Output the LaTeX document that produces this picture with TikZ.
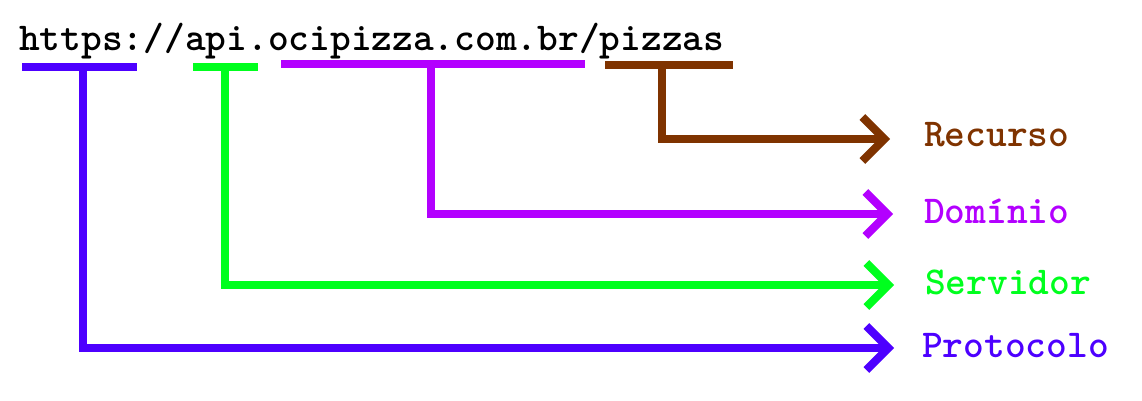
\documentclass[tikz,border=0pt]{standalone}
\usepackage{fontspec}
\usetikzlibrary{arrows.meta}
\definecolor{cblue}{HTML}{4D00FF}
\definecolor{cgreen}{HTML}{00FF1E}
\definecolor{cpurple}{HTML}{B300FF}
\definecolor{cbrown}{HTML}{7F3300}
\tikzset{
  urltext/.style={font=\ttfamily\bfseries\fontsize{39.5pt}{44pt}\selectfont\addfontfeature{FakeBold=0.8}, inner sep=0pt, anchor=base west},
  bar/.style={line width=8pt, line cap=butt},
  conn/.style={line width=8pt, line join=miter, -{Straight Barb[length=22pt,width=44pt,line width=8pt]}},
}
\begin{document}
\begin{tikzpicture}[x=1pt,y=-1pt]
\useasboundingbox (0,0) rectangle (1142,400);
\node[urltext] (url) at (19,50) {https://api.ocipizza.com.br/pizzas};
% underline bars
\coordinate (b1l) at (22,67);  \coordinate (b1r) at (137,67);
\coordinate (b2l) at (193,67); \coordinate (b2r) at (258,67);
\coordinate (b3l) at (281,63.5); \coordinate (b3r) at (585,63.5);
\coordinate (b4l) at (605,64.5); \coordinate (b4r) at (733,64.5);
\draw[bar,cblue] (b1l) -- (b1r);
\draw[bar,cgreen] (b2l) -- (b2r);
\draw[bar,cpurple] (b3l) -- (b3r);
\draw[bar,cbrown] (b4l) -- (b4r);
% stems
\coordinate (s1) at (83,67);
\coordinate (s2) at (225,67);
\coordinate (s3) at (431,63.5);
\coordinate (s4) at (662,64.5);
% arrow ends
\coordinate (e1) at (894,348);
\coordinate (e2) at (894,285);
\coordinate (e3) at (893,214);
\coordinate (e4) at (890,139);
% labels
\node[urltext,text=cbrown] (lrec) at (924,146) {Recurso};
\node[urltext,text=cpurple] (ldom) at (924,223) {Domínio};
\node[urltext,text=cgreen] (lser) at (925,294) {Servidor};
\node[urltext,text=cblue] (lpro) at (922,357) {Protocolo};
% connectors
\draw[conn,cblue] (s1) |- (e1);
\draw[conn,cgreen] (s2) |- (e2);
\draw[conn,cpurple] (s3) |- (e3);
\draw[conn,cbrown] (s4) |- (e4);
\end{tikzpicture}
\end{document}
